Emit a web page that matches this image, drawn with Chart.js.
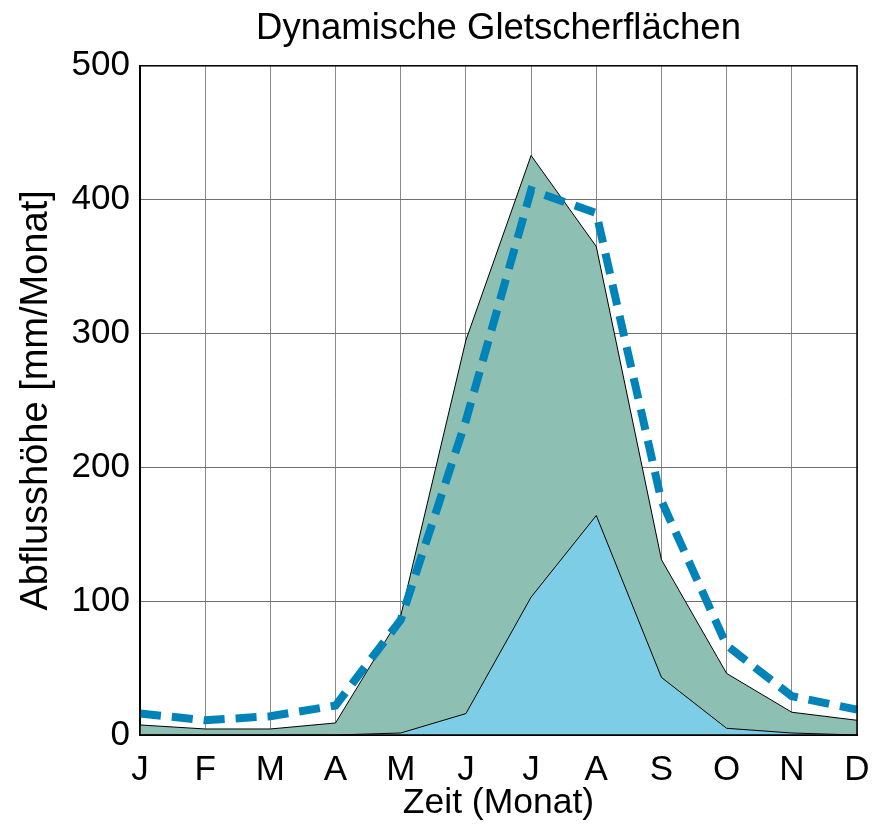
<!DOCTYPE html>
<html>
<head>
<meta charset="utf-8">
<script src="https://cdn.jsdelivr.net/npm/chart.js@4"></script>
<style>
  html, body { margin: 0; padding: 0; background: #fff; }
  #wrap { width: 877px; height: 825px; }
</style>
</head>
<body>
<div id="wrap"><canvas id="chart" width="877" height="825"></canvas></div>
<script>
// months
const months = ['J', 'F', 'M', 'A', 'M', 'J', 'J', 'A', 'S', 'O', 'N', 'D'];

// total runoff (green area)
const totalArea = [7.5, 4.5, 4.5, 9, 89, 295, 433, 365, 131, 46, 17, 11];
// ice melt part (light blue area)
const iceArea = [0, 0, 0, 0, 1.5, 16, 103, 164, 43, 5, 1.5, 0];
// dashed reference line
const dashedLine = [16, 11, 14, 22, 86, 235, 407, 390, 175, 67, 29, 19];

const yTicks = [0, 100, 200, 300, 400, 500];

const font = 'Liberation Sans, Arial, sans-serif';

// box round the plot area
const frame = {
    id: 'frame',
    afterDatasetsDraw(chart) {
        const a = chart.chartArea;
        const ctx = chart.ctx;
        ctx.save();
        ctx.strokeStyle = '#000';
        ctx.lineWidth = 1.5;
        ctx.strokeRect(a.left, a.top, a.right - a.left, a.bottom - a.top);
        ctx.restore();
    }
};

new Chart(document.getElementById('chart').getContext('2d'), {
    type: 'line',
    data: {
        labels: months,
        datasets: [
            {
                label: 'Gesamt',
                data: dashedLine,
                borderColor: '#0083b8',
                borderWidth: 8,
                borderDash: [21, 11],
                fill: false,
                pointRadius: 0,
                tension: 0,
                order: 0
            },
            {
                label: 'Eis',
                data: iceArea,
                borderColor: '#000',
                borderWidth: 1,
                backgroundColor: '#7dcde6',
                fill: 'origin',
                pointRadius: 0,
                tension: 0,
                order: 1
            },
            {
                label: 'Total',
                data: totalArea,
                borderColor: '#000',
                borderWidth: 1,
                backgroundColor: '#8dbfb3',
                fill: 'origin',
                pointRadius: 0,
                tension: 0,
                order: 2
            }
        ]
    },
    options: {
        responsive: false,
        animation: false,
        layout: { padding: { left: 0, right: 20, top: 0, bottom: 0 } },
        plugins: {
            legend: { display: false },
            tooltip: { enabled: false },
            title: {
                display: true,
                text: 'Dynamische Gletscherflächen',
                color: '#000',
                fullSize: false,
                font: { family: font, size: 36.5, weight: 'normal' },
                padding: { top: 7, bottom: 15 }
            }
        },
        scales: {
            x: {
                offset: false,
                grid: { color: '#8a8a8a', lineWidth: 1, drawTicks: false },
                border: { color: '#000', width: 2 },
                ticks: {
                    color: '#000',
                    padding: 14,
                    maxRotation: 0,
                    autoSkip: false,
                    font: { family: font, size: 35 }
                },
                title: {
                    display: true,
                    text: 'Zeit (Monat)',
                    color: '#000',
                    font: { family: font, size: 35.5 },
                    padding: { top: 0, bottom: 0 }
                },
                afterFit(scale) {
                    scale.height = 90;
                    scale.paddingLeft = 0;
                    scale.paddingRight = 0;
                }
            },
            y: {
                min: 0,
                max: 500,
                afterBuildTicks(scale) { scale.ticks = yTicks.map(v => ({ value: v })); },
                grid: { color: '#6f6f6f', lineWidth: 1, drawTicks: false },
                border: { color: '#000', width: 2 },
                ticks: {
                    color: '#000',
                    padding: 10,
                    font: { family: font, size: 35 }
                },
                title: {
                    display: true,
                    text: 'Abflusshöhe [mm/Monat]',
                    color: '#000',
                    font: { family: font, size: 38 },
                    padding: { top: 14, bottom: 0 }
                },
                afterFit(scale) { scale.width = 140; }
            }
        }
    },
    plugins: [frame]
});
</script>
</body>
</html>
